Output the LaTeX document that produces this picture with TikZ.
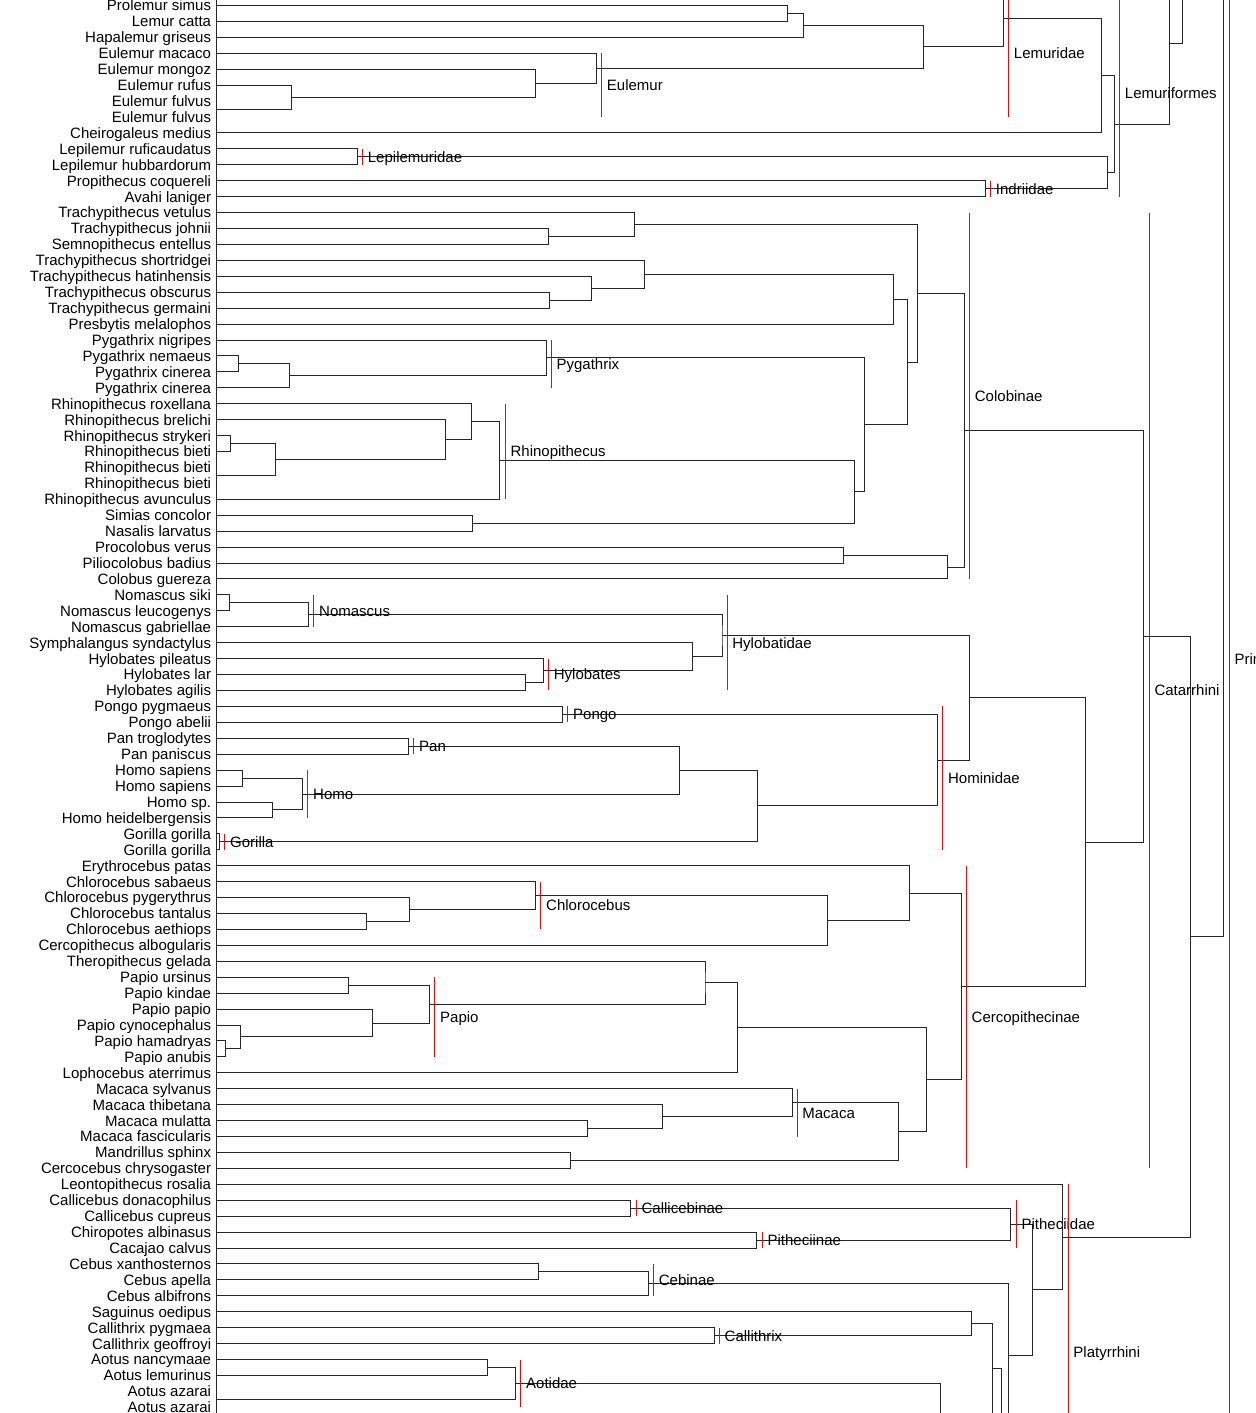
\documentclass[tikz,border=0pt]{standalone}
\usepackage{fontspec}
\setmainfont{Liberation Sans}
\usetikzlibrary{calc}
\tikzset{leaf/.style={anchor=east,inner sep=0pt,font=\fontsize{7.5}{9}\selectfont,text height=5.4pt,text depth=0pt}}
\tikzset{taxon/.style={anchor=west,inner sep=0pt,font=\fontsize{7.5}{9}\selectfont,text height=5.4pt,text depth=0pt}}
\tikzset{br/.style={draw=black!85,line width=0.5pt}}
\tikzset{bar/.style={draw=red,line width=0.5pt}}

\newcommand{\clade}[4]{%
  \path let \p1=(#3), \p2=(#4) in ({#2*0.5pt},{(\y1+\y2)/2}) coordinate (#1);
  \draw[br] (#3) -| (#1) |- (#4);
}
\newcommand{\cladelabel}[5]{%
  \coordinate (#1t) at (#2,{5+15.93*(#3-1)});
  \coordinate (#1b) at (#2,{5+15.93*(#4-1)});
  \draw[bar] (#1t) -- (#1b);
  \node[taxon] (#1) at ({#2+5},{5+15.93*((#3+#4)/2-1)}) {#5};
}

\begin{document}
\begin{tikzpicture}[x=0.5pt,y=-0.5pt]
\useasboundingbox (0,0) rectangle (1256,1413);
\clip (0,0) rectangle (1256,1413);
\begin{scope}[shift={(0.5,0.5)}]

\foreach \sp [count=\i] in {Prolemur simus, Lemur catta, Hapalemur griseus, Eulemur macaco,
  Eulemur mongoz, Eulemur rufus, Eulemur fulvus, Eulemur fulvus, Cheirogaleus medius,
  Lepilemur ruficaudatus, Lepilemur hubbardorum, Propithecus coquereli, Avahi laniger,
  Trachypithecus vetulus, Trachypithecus johnii, Semnopithecus entellus,
  Trachypithecus shortridgei, Trachypithecus hatinhensis, Trachypithecus obscurus,
  Trachypithecus germaini, Presbytis melalophos, Pygathrix nigripes, Pygathrix nemaeus,
  Pygathrix cinerea, Pygathrix cinerea, Rhinopithecus roxellana, Rhinopithecus brelichi,
  Rhinopithecus strykeri, Rhinopithecus bieti, Rhinopithecus bieti, Rhinopithecus bieti,
  Rhinopithecus avunculus, Simias concolor, Nasalis larvatus, Procolobus verus,
  Piliocolobus badius, Colobus guereza, Nomascus siki, Nomascus leucogenys,
  Nomascus gabriellae, Symphalangus syndactylus, Hylobates pileatus, Hylobates lar,
  Hylobates agilis, Pongo pygmaeus, Pongo abelii, Pan troglodytes, Pan paniscus,
  Homo sapiens, Homo sapiens, Homo sp., Homo heidelbergensis, Gorilla gorilla,
  Gorilla gorilla, Erythrocebus patas, Chlorocebus sabaeus, Chlorocebus pygerythrus,
  Chlorocebus tantalus, Chlorocebus aethiops, Cercopithecus albogularis,
  Theropithecus gelada, Papio ursinus, Papio kindae, Papio papio, Papio cynocephalus,
  Papio hamadryas, Papio anubis, Lophocebus aterrimus, Macaca sylvanus, Macaca thibetana,
  Macaca mulatta, Macaca fascicularis, Mandrillus sphinx, Cercocebus chrysogaster,
  Leontopithecus rosalia, Callicebus donacophilus, Callicebus cupreus,
  Chiropotes albinasus, Cacajao calvus, Cebus xanthosternos, Cebus apella,
  Cebus albifrons, Saguinus oedipus, Callithrix pygmaea, Callithrix geoffroyi,
  Aotus nancymaae, Aotus lemurinus, Aotus azarai, Aotus azarai}{
  \coordinate (L\i) at (216,{5+15.93*(\i-1)});
  \node[leaf] (n\i) at (211,{5+15.93*(\i-1)}) {\sp};
}
\coordinate (L0) at (216,-10.93);
\coordinate (axT) at (216,-20);
\coordinate (axB) at (216,1440);
\coordinate (offA) at (1150,-36.7);
\coordinate (offB) at (1170,-150);
\coordinate (offC) at (1200,-300);
\coordinate (offD) at (930,1443.4);
\coordinate (offE) at (995,1485);
\draw[br] (axT) -- (axB);

\clade{pl}{786.5}{L1}{L2}
\clade{plh}{802.7}{pl}{L3}
\clade{fu}{216}{L7}{L8}
\clade{rf}{291}{L6}{fu}
\clade{mrf}{535}{L5}{rf}
\clade{eul}{596}{L4}{mrf}
\clade{lem}{923}{plh}{eul}
\clade{lmd}{1002.5}{L0}{lem}
\clade{lmc}{1100.7}{lmd}{L9}
\clade{lep}{357}{L10}{L11}
\clade{ind}{985}{L12}{L13}
\clade{li}{1107}{lep}{ind}
\clade{lmf}{1114}{lmc}{li}
\clade{strA}{1169}{offA}{lmf}
\clade{strB}{1181.5}{offB}{strA}

\clade{jse}{548.3}{L15}{L16}
\clade{vjs}{633.7}{L14}{jse}
\clade{og}{549.3}{L19}{L20}
\clade{hog}{590.7}{L18}{og}
\clade{shog}{643.7}{L17}{hog}
\clade{trp}{893}{shog}{L21}
\clade{pc}{238.3}{L23}{L24}
\clade{pcc}{289.3}{pc}{L25}
\clade{pyg}{545.7}{L22}{pcc}
\clade{sb}{230}{L28}{L29}
\clade{bb}{216}{L30}{L31}
\clade{sbb}{275}{sb}{bb}
\clade{bsb}{444.7}{L27}{sbb}
\clade{rbs}{471.3}{L26}{bsb}
\clade{rhi}{499.3}{rbs}{L32}
\clade{sn}{472}{L33}{L34}
\clade{rsn}{853.7}{rhi}{sn}
\clade{odd}{863.7}{pyg}{rsn}
\clade{tpo}{907}{trp}{odd}
\clade{sem}{916.7}{vjs}{tpo}
\clade{pp}{842.5}{L35}{L36}
\clade{col}{947.2}{pp}{L37}
\clade{clb}{964}{sem}{col}

\clade{ns}{229}{L38}{L39}
\clade{nom}{308.3}{ns}{L40}
\clade{la}{525.3}{L43}{L44}
\clade{hyl}{542.7}{L42}{la}
\clade{sh}{692.3}{L41}{hyl}
\clade{hyb}{721.5}{nom}{sh}
\clade{pon}{562.3}{L45}{L46}
\clade{pan}{408.3}{L47}{L48}
\clade{hs}{242.3}{L49}{L50}
\clade{hh}{272.3}{L51}{L52}
\clade{hom}{301.7}{hs}{hh}
\clade{ph}{679}{pan}{hom}
\clade{gor}{219.3}{L53}{L54}
\clade{phg}{757}{ph}{gor}
\clade{hmd}{936.8}{pon}{phg}
\clade{hmo}{968.5}{hyb}{hmd}

\clade{ta}{366.3}{L58}{L59}
\clade{pta}{409.3}{L57}{ta}
\clade{chl}{535}{L56}{pta}
\clade{chc}{826.6}{chl}{L60}
\clade{ech}{908.6}{L55}{chc}
\clade{uk}{348.3}{L62}{L63}
\clade{ha}{225}{L66}{L67}
\clade{cha}{240}{L65}{ha}
\clade{pch}{372.3}{L64}{cha}
\clade{pap}{429}{uk}{pch}
\clade{tp}{704.5}{L61}{pap}
\clade{tpl}{736.6}{tp}{L68}
\clade{mf}{586.7}{L71}{L72}
\clade{tmf}{662.3}{L70}{mf}
\clade{mac}{791.5}{L69}{tmf}
\clade{mc}{570.3}{L73}{L74}
\clade{mmc}{898}{mac}{mc}
\clade{pm}{925.6}{tpl}{mmc}
\clade{cer}{960.8}{ech}{pm}
\clade{cat}{1084.8}{hmo}{cer}
\clade{catr}{1142.8}{clb}{cat}

\clade{cb}{630.3}{L76}{L77}
\clade{pt}{756.3}{L78}{L79}
\clade{pit}{1010.3}{cb}{pt}
\clade{xa}{537.7}{L80}{L81}
\clade{ceb}{647.7}{xa}{L82}
\clade{cal}{713.8}{L84}{L85}
\clade{sc}{971.2}{L83}{cal}
\clade{nl}{487.3}{L86}{L87}
\clade{az}{216}{L88}{L89}
\clade{aot}{515.3}{nl}{az}
\clade{ao}{940.3}{aot}{offD}
\clade{sca}{991.7}{sc}{ao}
\clade{scx}{1001.4}{sca}{offE}
\clade{cbx}{1007.5}{ceb}{scx}
\clade{pcx}{1031.5}{pit}{cbx}
\clade{plt}{1062.4}{L75}{pcx}
\clade{hap}{1189.6}{catr}{plt}
\clade{root}{1222.5}{offC}{hap}

\cladelabel{tEul}{601}{4}{8}{Eulemur}
\cladelabel{tLep}{362}{10}{11}{Lepilemuridae}
\cladelabel{tLmd}{1008}{0}{8}{Lemuridae}
\cladelabel{tInd}{990}{12}{13}{Indriidae}
\cladelabel{tLmf}{1119}{0}{13}{Lemuriformes}
\cladelabel{tPyg}{550.7}{22}{25}{Pygathrix}
\cladelabel{tRhi}{504.7}{26}{32}{Rhinopithecus}
\cladelabel{tCol}{969}{14}{37}{Colobinae}
\cladelabel{tNom}{313.3}{38}{40}{Nomascus}
\cladelabel{tHyl}{548}{42}{44}{Hylobates}
\cladelabel{tHyb}{726.5}{38}{44}{Hylobatidae}
\cladelabel{tPon}{567.3}{45}{46}{Pongo}
\cladelabel{tPan}{413.3}{47}{48}{Pan}
\cladelabel{tHom}{307.3}{49}{52}{Homo}
\cladelabel{tGor}{224.3}{53}{54}{Gorilla}
\cladelabel{tHmd}{942.2}{45}{54}{Hominidae}
\cladelabel{tChl}{540.3}{56}{59}{Chlorocebus}
\cladelabel{tPap}{434.3}{62}{67}{Papio}
\cladelabel{tMac}{796.5}{69}{72}{Macaca}
\cladelabel{tCer}{965.8}{55}{74}{Cercopithecinae}
\cladelabel{tCat}{1148.6}{14}{74}{Catarrhini}
\cladelabel{tCbi}{635.7}{76}{77}{Callicebinae}
\cladelabel{tPti}{761.7}{78}{79}{Pitheciinae}
\cladelabel{tPit}{1015.7}{76}{79}{Pitheciidae}
\cladelabel{tCeb}{653}{80}{82}{Cebinae}
\cladelabel{tCal}{718.8}{84}{85}{Callithrix}
\cladelabel{tAot}{520.3}{86}{89}{Aotidae}
\cladelabel{tPla}{1067.5}{75}{96}{Platyrrhini}
\cladelabel{tPri}{1228.6}{-20}{104}{Primates}
\end{scope}
\end{tikzpicture}
\end{document}
